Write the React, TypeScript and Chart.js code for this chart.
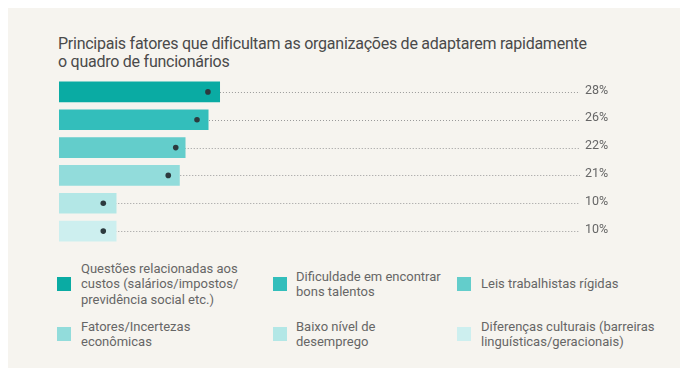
import React, { useEffect, useRef } from "react";
import { Chart, registerables } from "chart.js";

Chart.register(...registerables);

const titleLines = [
  "Principais fatores que dificultam as organizações de adaptarem rapidamente",
  "o quadro de funcionários",
];

const categories = [
  ["Questões relacionadas aos", "custos (salários/impostos/", "previdência social etc.)"],
  ["Dificuldade em encontrar", "bons talentos"],
  ["Leis trabalhistas rígidas"],
  ["Fatores/Incertezas", "econômicas"],
  ["Baixo nível de", "desemprego"],
  ["Diferenças culturais (barreiras", "linguísticas/geracionais)"],
];

const values = [28, 26, 22, 21, 10, 10];
const markerValues = [25.9, 24.0, 20.3, 19.0, 7.7, 7.7];
const valueLabels = ["28%", "26%", "22%", "21%", "10%", "10%"];
const barColors = ["#0aaba3", "#33bebb", "#63cdcb", "#92dcdb", "#b3e7e6", "#cdefef"];
const xMax = 90.6;

const FONT = "Roboto, 'Noto Sans', sans-serif";

const legendCols = [
  { sq: 49, tx: 73 },
  { sq: 265, tx: 288 },
  { sq: 449, tx: 473 },
];
const legendRows = [276, 326];

export default function App() {
  const ref = useRef<HTMLCanvasElement | null>(null);

  useEffect(() => {
    if (!ref.current) return;
    const guides = {
      id: "guides",
      beforeDatasetsDraw(chart: any) {
        const ctx = chart.ctx;
        const meta = chart.getDatasetMeta(1);
        const right = chart.chartArea.right;
        ctx.save();
        ctx.strokeStyle = "#9a9a9a";
        ctx.lineWidth = 1;
        ctx.setLineDash([1, 2]);
        meta.data.forEach((pt: any) => {
          const y = Math.round(pt.y) + 0.5;
          ctx.beginPath();
          ctx.moveTo(pt.x, y);
          ctx.lineTo(right, y);
          ctx.stroke();
        });
        ctx.restore();
      },
      afterDraw(chart: any) {
        const ctx = chart.ctx;
        const meta = chart.getDatasetMeta(1);
        const right = chart.chartArea.right;
        ctx.save();
        ctx.fillStyle = "#666";
        ctx.font = `12.5px ${FONT}`;
        ctx.textBaseline = "middle";
        ctx.textAlign = "left";
        meta.data.forEach((pt: any, i: number) => {
          ctx.fillText(valueLabels[i], right + 5, pt.y - 1.5);
        });
        ctx.restore();
      },
    };
    const chart = new Chart(ref.current, {
      type: "bar",
      data: {
        labels: categories.map((c) => c.join(" ")),
        datasets: [
          {
            type: "bar",
            data: values,
            backgroundColor: barColors,
            barPercentage: 0.74,
            categoryPercentage: 1,
            order: 2,
          } as any,
          {
            type: "line",
            data: markerValues,
            showLine: false,
            pointRadius: 2.8,
            pointBackgroundColor: "#2c3a3e",
            pointBorderWidth: 0,
            order: 1,
          } as any,
        ],
      },
      options: {
        indexAxis: "y",
        animation: false,
        responsive: false,
        maintainAspectRatio: false,
        layout: { padding: { left: 51, right: 100, top: 8, bottom: 10 } },
        scales: {
          x: { display: false, min: 0, max: xMax },
          y: { display: false },
        },
        plugins: {
          legend: { display: false },
          tooltip: { enabled: false },
        },
      },
      plugins: [guides],
    });
    return () => chart.destroy();
  }, []);

  return (
    <div
      style={{
        position: "relative",
        width: 672,
        height: 360,
        background: "#f6f4ef",
        fontFamily: FONT,
      }}
    >
      <div
        style={{
          position: "absolute",
          left: 50,
          top: 27,
          fontSize: 16,
          lineHeight: "18px",
          color: "#4a4a4a",
          letterSpacing: "-0.25px",
          whiteSpace: "nowrap",
        }}
      >
        {titleLines.map((t, i) => (
          <div key={i}>{t}</div>
        ))}
      </div>
      <canvas
        ref={ref}
        width={672}
        height={185}
        style={{ position: "absolute", left: 0, top: 62, width: 672, height: 185 }}
      />
      {categories.map((lines, i) => {
        const col = legendCols[i % 3];
        const rowC = legendRows[Math.floor(i / 3)];
        const lh = 15.5;
        const h = lines.length * lh;
        return (
          <React.Fragment key={i}>
            <div
              style={{
                position: "absolute",
                left: col.sq,
                top: rowC - 7,
                width: 14,
                height: 14,
                background: barColors[i],
              }}
            />
            <div
              style={{
                position: "absolute",
                left: col.tx,
                top: rowC - h / 2,
                fontSize: 13,
                lineHeight: `${lh}px`,
                color: "#666",
                whiteSpace: "nowrap",
              }}
            >
              {lines.map((l, j) => (
                <div key={j}>{l}</div>
              ))}
            </div>
          </React.Fragment>
        );
      })}
    </div>
  );
}
